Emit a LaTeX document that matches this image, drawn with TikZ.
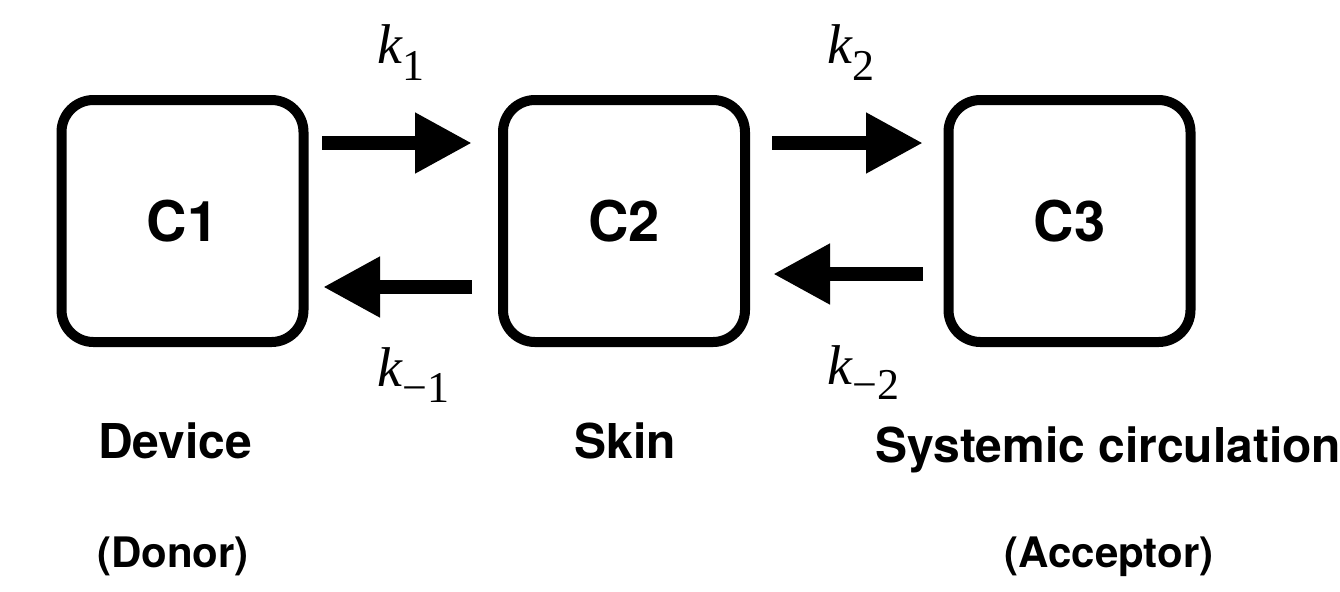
\documentclass[tikz,border=0pt]{standalone}
\usepackage{fontspec}
\setmainfont{Liberation Serif}
\newfontfamily\hv{TeX Gyre Heros}
\usetikzlibrary{arrows.meta}
\begin{document}
\begin{tikzpicture}[x=0.5pt,y=-0.5pt,
  comp/.style={draw, line width=5pt, rounded corners=16pt, minimum width=121pt,
    minimum height=121pt, inner sep=0pt, font=\hv\bfseries\fontsize{28}{28}\selectfont},
  flow/.style={line width=7pt, -{Triangle[length=28.5pt,width=28.5pt]}},
  klab/.style={anchor=base west, inner sep=0pt, font=\fontsize{28}{28}\selectfont},
  lab/.style={anchor=base, inner sep=0pt, font=\hv\bfseries\fontsize{24}{24}\selectfont},
  sublab/.style={anchor=base, inner sep=0pt, font=\hv\bfseries\fontsize{21}{21}\selectfont}]
\useasboundingbox (0,0) rectangle (1340,591);
\node[comp] (C1) at (182.5,221) {C1};
\node[comp] (C2) at (624,221) {C2};
\node[comp] (C3) at (1069.5,221) {C3};
% forward / backward fluxes
\draw[flow] ([shift={(13.5,-78)}]C1.east) -- ([shift={(-26,-78)}]C2.west);
\draw[flow] ([shift={(22,-78)}]C2.east) -- ([shift={(-20.5,-78)}]C3.west);
\draw[flow] ([shift={(-26,66)}]C2.west) -- ([shift={(14.5,66)}]C1.east);
\draw[flow] ([shift={(-20.5,53)}]C3.west) -- ([shift={(23,53)}]C2.east);
% rate constants
\node[klab] (k1) at (377,63) {\itshape k\upshape\raisebox{-8.5pt}{\fontsize{22}{22}\selectfont 1}};
\node[klab] (k2) at (827,63) {\itshape k\upshape\raisebox{-8.5pt}{\fontsize{22}{22}\selectfont 2}};
\node[klab] (km1) at (377,386) {\itshape k\upshape\raisebox{-8pt}{\fontsize{22}{22}\selectfont −1}};
\node[klab] (km2) at (827,384) {\itshape k\upshape\raisebox{-7.5pt}{\fontsize{22}{22}\selectfont −2}};
% compartment names
\node[lab] (dev) at (175,458) {Device};
\node[lab] (skin) at (625,458) {Skin};
\node[lab, anchor=base west] (sys) at (875,462) {Systemic circulation};
\node[sublab] (don) at (173,567) {(Donor)};
\node[sublab] (acc) at (1109,567) {(Acceptor)};
\end{tikzpicture}
\end{document}
